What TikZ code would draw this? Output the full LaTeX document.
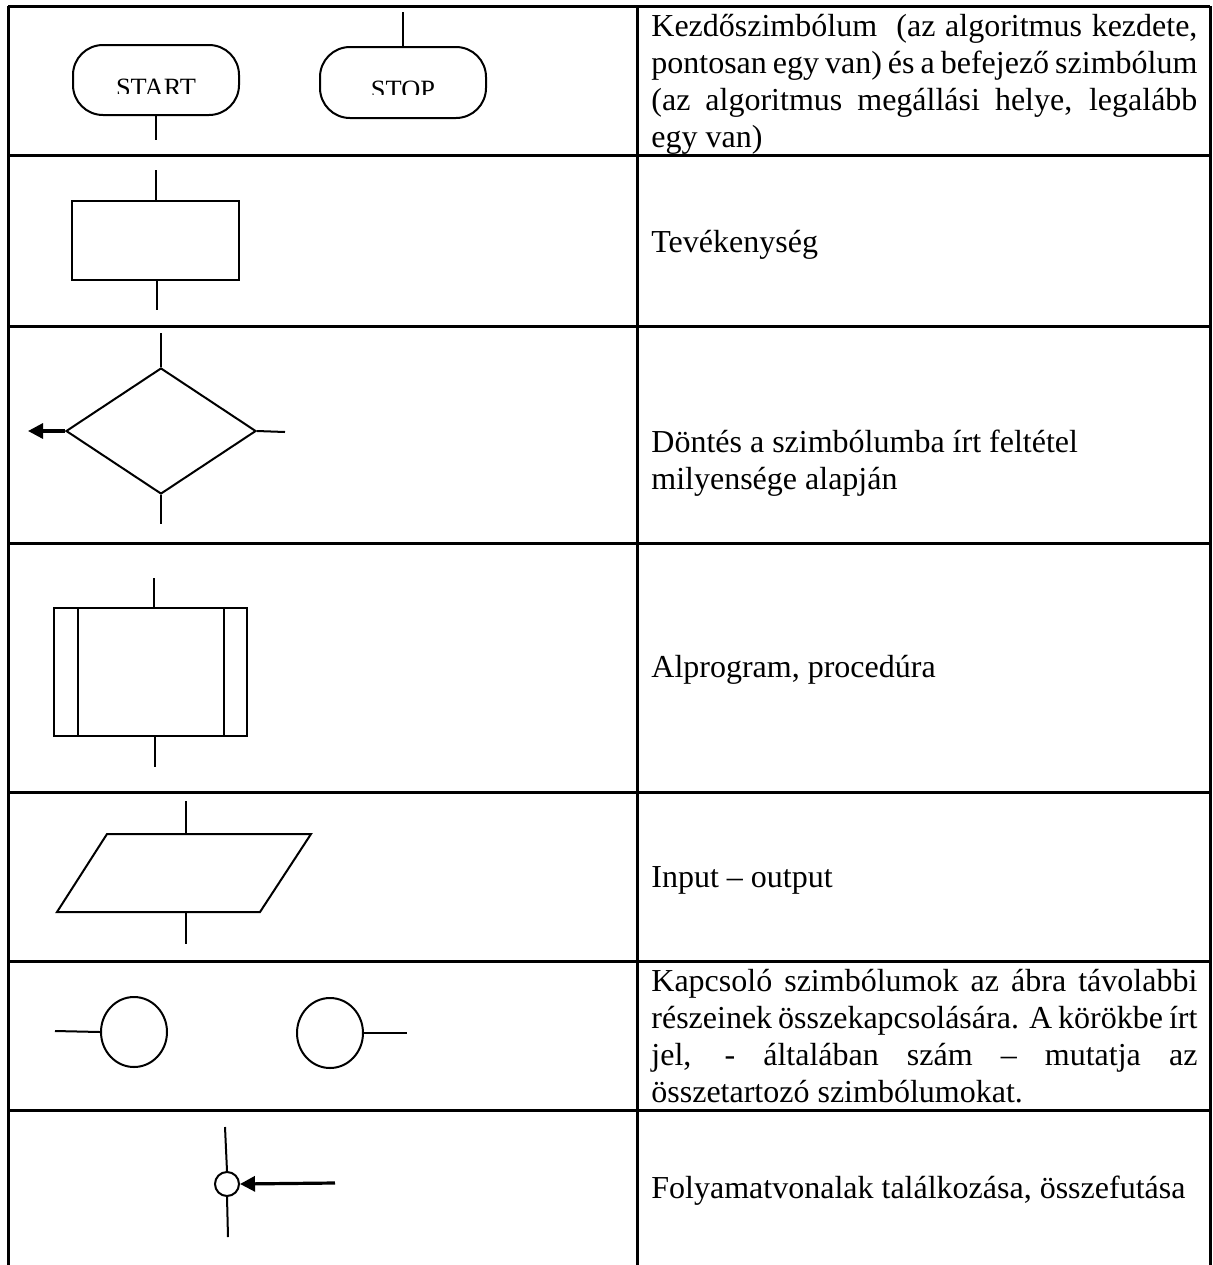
\documentclass[tikz,border=0pt]{standalone}
\usepackage{fontspec}
\setmainfont{Liberation Serif}
\usetikzlibrary{arrows.meta,shapes.geometric,calc}

\begin{document}
\begin{tikzpicture}[
  x=0.5pt, y=-0.5pt,
  grid/.style={line width=1.5pt},
  symb/.style={draw, line width=1pt, inner sep=0pt, minimum size=0pt},
  flow/.style={line width=1pt},
  heavy/.style={line width=1.6pt, -{Triangle[length=7.5pt,width=7.5pt]}},
  txt/.style={font=\fontsize{16pt}{18.5pt}\selectfont, inner sep=0pt, anchor=base west},
  lbl/.style={font=\fontsize{13.2pt}{15pt}\selectfont, inner sep=0pt, anchor=base}
]
\useasboundingbox (0,0) rectangle (1213,1265);
\fill[white] (0,0) rectangle (1213,1265);

% table frame and row separators
\draw[grid] (8,6) -- (1210,6);
\foreach \yy in {155,326,543,792,961,1110}
  \draw[grid] (8,\yy) -- (1210,\yy);
\draw[grid] (8,6) -- (8,1265);
\draw[grid] (637,6) -- (637,1265);
\draw[grid] (1210,6) -- (1210,1265);

% row 1: start and stop terminals
\node[symb, rounded corners=15pt, minimum width=83pt, minimum height=35pt] (start) at (156,80) {};
\node[symb, rounded corners=15pt, minimum width=83pt, minimum height=35.5pt] (stop) at (403,82.5) {};
\begin{scope}
  \clip (85,50) rectangle (228,93);
  \node[lbl] (starttxt) at (156,96) {START};
\end{scope}
\begin{scope}
  \clip (330,50) rectangle (476,94);
  \node[lbl] (stoptxt) at (403,98) {STOP};
\end{scope}
\coordinate (startout) at (156,140);
\coordinate (stopin) at (403,12);
\draw[flow] (start.south) -- (startout);
\draw[flow] (stopin) -- (stop.north);

% row 2: activity box
\node[symb, minimum width=83.5pt, minimum height=39.5pt] (act) at (155.5,240.5) {};
\coordinate (actin) at (156,170);
\coordinate (actout) at (157,310);
\draw[flow] (actin) -- (actin |- act.north);
\draw[flow] (actout |- act.south) -- (actout);

% row 3: decision
\node[symb, diamond, minimum width=95pt, minimum height=63pt] (dec) at (161,431) {};
\coordinate (decin) at (161,333);
\coordinate (decout) at (161,524);
\coordinate (decright) at (285,432);
\coordinate (decleft) at (28,431);
\draw[flow] (decin) -- (dec.north);
\draw[flow] (dec.south) -- (decout);
\draw[flow] (dec.east) -- (decright);
\draw[heavy] (dec.west) -- (decleft);

% row 4: subprogram
\node[symb, minimum width=96.5pt, minimum height=64pt] (sub) at (150.5,672) {};
\draw[flow] ($(sub.north west)+(25,0)$) -- ($(sub.south west)+(25,0)$);
\draw[flow] ($(sub.north east)+(-24,0)$) -- ($(sub.south east)+(-24,0)$);
\coordinate (subin) at (154,578);
\coordinate (subout) at (155,767);
\draw[flow] (subin) -- (subin |- sub.north);
\draw[flow] (subout |- sub.south) -- (subout);

% row 5: input / output
\coordinate (io1) at (107,834);
\coordinate (io2) at (311,834);
\coordinate (io3) at (260,912);
\coordinate (io4) at (57,912);
\draw[flow, line join=miter] (io1) -- (io2) -- (io3) -- (io4) -- cycle;
\coordinate (ioin) at (186,801);
\coordinate (ioout) at (186,944);
\draw[flow] (ioin) -- (ioin |- io1);
\draw[flow] (ioout |- io4) -- (ioout);

% row 6: connectors
\node[symb, ellipse, minimum width=33pt, minimum height=35pt] (con1) at (134,1032) {};
\node[symb, ellipse, minimum width=33pt, minimum height=35pt] (con2) at (330,1033) {};
\coordinate (con1in) at (55,1031);
\coordinate (con2out) at (407,1033);
\draw[flow] (con1in) -- (con1.west);
\draw[flow] (con2.east) -- (con2out);

% row 7: junction of flow lines
\node[symb, circle, minimum size=12pt] (junc) at (227,1184) {};
\coordinate (jtop) at (225,1127);
\coordinate (jbot) at (228,1237);
\coordinate (jright) at (335,1183);
\draw[flow] (jtop) -- (junc.north);
\draw[flow] (junc.south) -- (jbot);
\draw[heavy] (jright) -- (junc.east);

% descriptions
\node[txt] (d1a) at (651,36) {\hbox to 273pt{Kezdőszimbólum\ \ (az algoritmus kezdete,}};
\node[txt] (d1b) at (651,73) {\hbox to 273pt{pontosan egy van) és a befejező szimbólum}};
\node[txt] (d1c) at (651,110) {\hbox to 273pt{(az algoritmus megállási helye, legalább}};
\node[txt] (d1d) at (651,147) {egy van)};

\node[txt] (d2) at (651,252) {Tevékenység};

\node[txt] (d3a) at (651,452) {Döntés a szimbólumba írt feltétel};
\node[txt] (d3b) at (651,489) {milyensége alapján};

\node[txt] (d4) at (651,677) {Alprogram, procedúra};

\node[txt] (d5) at (651,887) {Input – output};

\node[txt] (d6a) at (651,991) {\hbox to 273pt{Kapcsoló szimbólumok az ábra távolabbi}};
\node[txt] (d6b) at (651,1028) {\hbox to 273pt{részeinek összekapcsolására. A körökbe írt}};
\node[txt] (d6c) at (651,1065) {\hbox to 273pt{jel, - általában szám – mutatja az}};
\node[txt] (d6d) at (651,1102) {összetartozó szimbólumokat.};

\node[txt] (d7) at (651,1198) {Folyamatvonalak találkozása, összefutása};
\end{tikzpicture}
\end{document}
